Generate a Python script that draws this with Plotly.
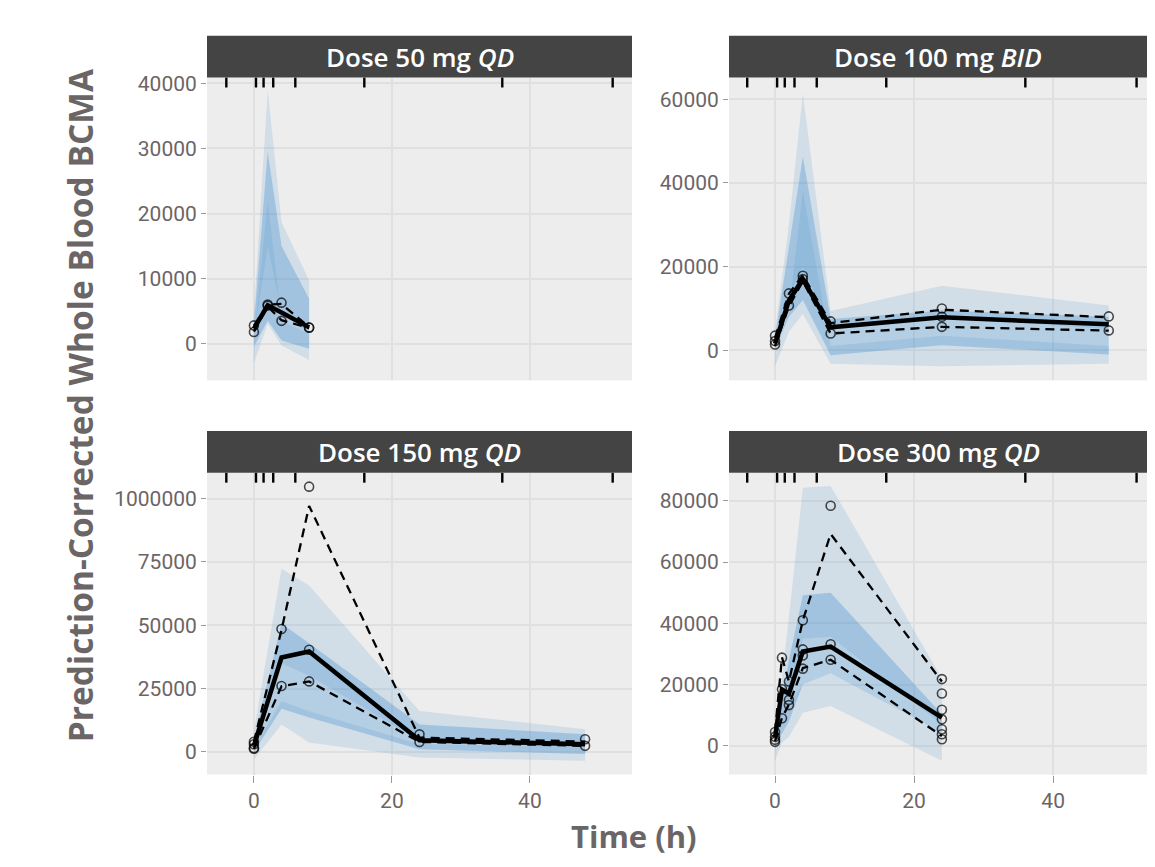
import plotly.graph_objects as go
from plotly.subplots import make_subplots

# ---------------- data ----------------
PANEL_TITLES = ["Dose 50 mg <i>QD</i>", "Dose 100 mg <i>BID</i>",
                "Dose 150 mg <i>QD</i>", "Dose 300 mg <i>QD</i>"]

BIN_SEPS = [-4, 0.3, 1.4, 2.8, 6, 16, 36, 52]

# 50 mg QD
T50 = [0, 2, 4, 8]
P95LO50 = [1000, 15000, 5000, 1500]
P95HI50 = [4500, 39000, 18700, 9700]
MEDLO50 = [-500, 3500, 500, -800]
MEDHI50 = [3000, 29500, 15000, 6900]
P5LO50 = [-3000, 3000, -300, -2500]
P5HI50 = [500, 21900, 3500, 1500]
OMED50 = [2300, 5900, 4800, 2500]
OHI50 = [2750, 6000, 6100, 2550]
OLO50 = [1850, 5700, 3600, 2400]
PT50_T = [0, 0, 2, 2, 4, 4, 8, 8]
PT50_V = [2800, 1800, 5850, 6000, 6300, 3500, 2450, 2500]

# 100 mg BID
T100 = [0, 2, 4, 8, 24, 48]
P95LO100 = [2000, 13000, 20000, 5500, 8000, 5000]
P95HI100 = [4500, 30000, 61400, 9400, 15400, 10700]
MEDLO100 = [500, 8000, 12000, -1200, 1200, -1000]
MEDHI100 = [3000, 25000, 46300, 7500, 9500, 8000]
P5LO100 = [-3900, 4500, 8700, -3200, -3800, -3200]
P5HI100 = [500, 9000, 38000, 1000, 3500, 1000]
OMED100 = [1600, 11900, 17000, 5500, 7900, 6200]
OHI100 = [3000, 13500, 18000, 6500, 9700, 7900]
OLO100 = [1000, 10500, 16500, 4000, 5600, 4700]
PT100_T = [0, 0, 0, 2, 2, 4, 4, 8, 8, 24, 24, 24, 48, 48]
PT100_V = [3500, 1400, 2200, 13600, 10700, 17800, 17000, 6900, 4000,
           10000, 8000, 5600, 8100, 4750]

# 150 mg QD
T150 = [0, 4, 8, 24, 48]
P95LO150 = [1500, 35000, 30000, 4500, 2500]
P95HI150 = [8000, 72300, 65700, 16100, 8900]
MEDLO150 = [0, 17000, 13500, 1000, -900]
MEDHI150 = [5000, 50700, 42900, 10800, 6900]
P5LO150 = [-3000, 10800, 3700, -2200, -3500]
P5HI150 = [1500, 20000, 16000, 3000, 2000]
OMED150 = [2350, 37250, 39600, 4600, 3000]
OHI150 = [4000, 48100, 97100, 5600, 4050]
OLO150 = [1200, 25900, 27800, 3900, 2350]
PT150_T = [0, 0, 0, 0, 4, 4, 8, 8, 8, 24, 24, 48, 48]
PT150_V = [4000, 3000, 1500, 1200, 48500, 26000, 104700, 40300, 27800,
           6900, 3900, 4970, 2350]

# 300 mg QD
T300 = [0, 1, 2, 4, 8, 24]
P95LO300 = [1000, 8000, 15000, 35000, 35600, 7000]
P95HI300 = [4900, 22000, 42000, 84300, 84900, 22000]
MEDLO300 = [0, 4000, 8000, 20000, 23700, 4300]
MEDHI300 = [3500, 15000, 28000, 49200, 50000, 10300]
P5LO300 = [-4900, 1000, 3000, 10800, 13000, -4900]
P5HI300 = [1500, 8000, 14000, 20000, 23700, 4300]
OMED300 = [2700, 18400, 17000, 30800, 32400, 9200]
OHI300 = [4500, 28900, 21000, 41000, 69200, 21000]
OLO300 = [1500, 9200, 13500, 25400, 28100, 3200]
PT300_T = [0, 0, 0, 0, 1, 1, 1, 2, 2, 2, 4, 4, 4, 4, 8, 8, 8,
           24, 24, 24, 24, 24, 24, 24]
PT300_V = [4500, 3000, 2000, 1300, 28800, 18500, 9000, 21000, 15000, 13300,
           41000, 31500, 29500, 25200, 78400, 33200, 28100,
           21800, 17100, 11800, 8650, 5400, 3800, 2160]

Y_RANGES = [[-5650, 40900], [-7200, 65200], [-9000, 110200], [-9400, 89200]]
Y_TICKVALS = [[0, 10000, 20000, 30000, 40000],
              [0, 20000, 40000, 60000],
              [0, 25000, 50000, 75000, 100000],
              [0, 20000, 40000, 60000, 80000]]
Y_TICKTEXT = [["0", "10000", "20000", "30000", "40000"],
              ["0", "20000", "40000", "60000"],
              ["0", "25000", "50000", "75000", "1000000"],
              ["0", "20000", "40000", "60000", "80000"]]
X_TICKVALS = [0, 20, 40]
X_RANGES = [[-6.8, 54.8], [-6.62, 53.5], [-6.8, 54.8], [-6.62, 53.5]]

panels = [
    (T50, P95LO50, P95HI50, MEDLO50, MEDHI50, P5LO50, P5HI50, OMED50, OHI50, OLO50, PT50_T, PT50_V),
    (T100, P95LO100, P95HI100, MEDLO100, MEDHI100, P5LO100, P5HI100, OMED100, OHI100, OLO100, PT100_T, PT100_V),
    (T150, P95LO150, P95HI150, MEDLO150, MEDHI150, P5LO150, P5HI150, OMED150, OHI150, OLO150, PT150_T, PT150_V),
    (T300, P95LO300, P95HI300, MEDLO300, MEDHI300, P5LO300, P5HI300, OMED300, OHI300, OLO300, PT300_T, PT300_V),
]

# ---------------- style ----------------
OFF = 8                      # browser body margin
FW, FH = 1155 - 2 * OFF, 867 - 2 * OFF
PI_FILL = "rgba(51,136,204,0.15)"
MED_FILL = "rgba(51,136,204,0.30)"
TEXT_COL = "#6b6566"
TICK_FONT = dict(family="Roboto, Liberation Sans, sans-serif", size=21, color=TEXT_COL)
BG = "#EDEDED"
GRID = "#E0E0E0"


def px(xp):
    return min(1.0, max(0.0, (xp - OFF) / FW))


def py(yp):
    return min(1.0, max(0.0, 1 - (yp - OFF) / FH))


# panel page-pixel boxes: (left, right, top, bottom)
BOXES = [(207, 632, 72, 377), (729, 1155, 72, 377),
         (207, 632, 470, 774), (729, 1155, 470, 774)]
STRIP_H = 42

fig = make_subplots(rows=2, cols=2)
pos = [(1, 1), (1, 2), (2, 1), (2, 2)]


def band(t, lo, hi, color, r, c):
    fig.add_trace(go.Scatter(x=list(t) + list(t)[::-1], y=list(hi) + list(lo)[::-1],
                             fill="toself", fillcolor=color, mode="lines",
                             line=dict(width=0), hoverinfo="skip", showlegend=False),
                  row=r, col=c)


for i, (t, p95lo, p95hi, medlo, medhi, p5lo, p5hi, omed, ohi, olo, pt_t, pt_v) in enumerate(panels):
    r, c = pos[i]
    band(t, p95lo, p95hi, PI_FILL, r, c)
    band(t, medlo, medhi, MED_FILL, r, c)
    band(t, p5lo, p5hi, PI_FILL, r, c)
    fig.add_trace(go.Scatter(x=pt_t, y=pt_v, mode="markers",
                             marker=dict(symbol="circle-open", size=9,
                                         color="rgba(0,0,0,0.7)", line=dict(width=1.6)),
                             showlegend=False), row=r, col=c)
    for yy in (ohi, olo):
        fig.add_trace(go.Scatter(x=t, y=yy, mode="lines",
                                 line=dict(color="black", width=2.3, dash="9px,6px"),
                                 showlegend=False), row=r, col=c)
    fig.add_trace(go.Scatter(x=t, y=omed, mode="lines",
                             line=dict(color="black", width=4.5),
                             showlegend=False), row=r, col=c)

    sfx = "" if i == 0 else str(i + 1)
    L, R, T, B = BOXES[i]
    bottom_row = r == 2
    fig.layout["xaxis" + sfx].update(
        domain=[px(L), px(R)], range=X_RANGES[i], tickvals=X_TICKVALS,
        showticklabels=bottom_row, ticks="outside" if bottom_row else "",
        ticklen=7, tickcolor="#9a9a9a", tickfont=TICK_FONT,
        showgrid=True, gridcolor=GRID, gridwidth=1.5, zeroline=False, showline=False)
    fig.layout["yaxis" + sfx].update(
        domain=[py(B), py(T)], range=Y_RANGES[i], tickvals=Y_TICKVALS[i], ticktext=Y_TICKTEXT[i],
        ticks="outside", ticklen=5, tickcolor="#9a9a9a", tickfont=TICK_FONT,
        showgrid=True, gridcolor=GRID, gridwidth=1.5, zeroline=False, showline=False)

    # bin separators rug along the top of the panel
    for b in BIN_SEPS:
        fig.add_shape(type="line", xref="x" + sfx, yref="y" + sfx + " domain",
                      x0=b, x1=b, y0=1, y1=1 - 10 / (B - T),
                      line=dict(color="black", width=2.4))

    # strip
    fig.add_shape(type="rect", xref="paper", yref="paper",
                  x0=px(L), x1=px(R), y0=py(T), y1=py(T - STRIP_H),
                  fillcolor="#444444", line=dict(width=0), layer="above")
    fig.add_annotation(text=PANEL_TITLES[i], xref="paper", yref="paper",
                       x=(px(L) + px(R)) / 2, y=py(T - STRIP_H / 2),
                       showarrow=False, xanchor="center", yanchor="middle",
                       font=dict(family="Open Sans", size=26, color="white", weight=600))

fig.add_annotation(text="Time (h)", xref="paper", yref="paper",
                   x=px(634), y=py(836), showarrow=False,
                   xanchor="center", yanchor="middle",
                   font=dict(family="Open Sans", size=31, color=TEXT_COL, weight=700))
fig.add_annotation(text="Prediction-Corrected Whole Blood BCMA", xref="paper", yref="paper",
                   x=px(80), y=py(402), showarrow=False, textangle=-90,
                   xanchor="center", yanchor="middle",
                   font=dict(family="Open Sans", size=33.5, color=TEXT_COL, weight=700))

fig.update_layout(width=FW, height=FH, margin=dict(l=0, r=0, t=0, b=0),
                  paper_bgcolor="white", plot_bgcolor=BG, showlegend=False)

fig.write_html("out.html")
